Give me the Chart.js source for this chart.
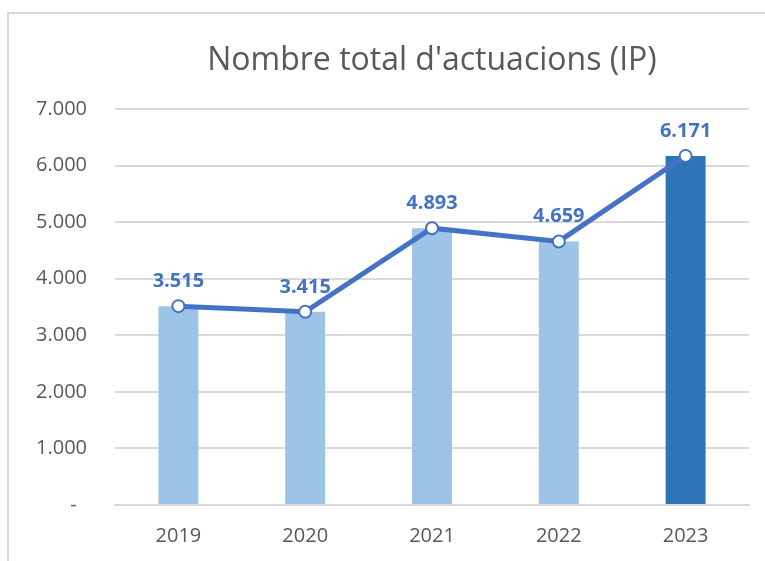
<!DOCTYPE html>
<html>
<head>
<meta charset="utf-8">
<script src="https://cdn.jsdelivr.net/npm/chart.js@4"></script>
<style>
  html, body { margin: 0; padding: 0; background: #fff; }
  #frame { position: absolute; left: 7px; top: 12px; width: 800px; height: 600px; border: 2px solid #d9d9d9; }
  #wrap { position: absolute; left: 0; top: 0; width: 765px; height: 561px; }
</style>
</head>
<body>
<div id="frame"></div>
<div id="wrap"><canvas id="canvas" width="765" height="561"></canvas></div>
<script>
const years = ["2019", "2020", "2021", "2022", "2023"];
const actuacions = [3515, 3415, 4893, 4659, 6171];
const barColors = ["#9dc3e6", "#9dc3e6", "#9dc3e6", "#9dc3e6", "#2e75b6"];
const yTicks = [0, 1000, 2000, 3000, 4000, 5000, 6000, 7000];
const titleText = "Nombre total d'actuacions (IP)";

const FONT = "'Open Sans', 'Noto Sans', sans-serif";

function fmt(v) {
   if (v === 0) return "-  ";
   return String(v).replace(/\B(?=(\d{3})+(?!\d))/g, ".");
}

// title centred over the plot area, plus value labels over the line points
const overlay = {
   id: "overlay",
   afterDatasetsDraw(chart) {
      const ctx = chart.ctx;
      const area = chart.chartArea;
      ctx.save();
      ctx.fillStyle = "#595959";
      ctx.font = "32px " + FONT;
      ctx.textAlign = "center";
      ctx.textBaseline = "alphabetic";
      ctx.fillText(titleText, (area.left + area.right) / 2, 69.5);

      const meta = chart.getDatasetMeta(1);
      ctx.fillStyle = "#4472c4";
      ctx.font = "bold 20px " + FONT;
      meta.data.forEach((pt, i) => {
         ctx.fillText(fmt(actuacions[i]), pt.x, pt.y - 19);
      });
      ctx.restore();
   }
};

const config = {
   type: "bar",
   data: {
      labels: years,
      datasets: [
         {
            type: "bar",
            data: actuacions,
            backgroundColor: barColors,
            barPercentage: 0.315,
            categoryPercentage: 1,
            order: 1
         },
         {
            type: "line",
            data: actuacions,
            borderColor: "#4472c4",
            borderWidth: 5,
            pointRadius: 6,
            pointBorderWidth: 2,
            pointBackgroundColor: "#ffffff",
            pointBorderColor: "#4472c4",
            tension: 0,
            order: 0
         }
      ]
   },
   options: {
      responsive: false,
      animation: false,
      layout: { padding: { top: 109, right: 16, left: 0, bottom: 0 } },
      plugins: {
         legend: { display: false },
         title: { display: false },
         tooltip: { enabled: false }
      },
      scales: {
         x: {
            grid: { display: false, drawTicks: false },
            border: { display: true, color: "#d9d9d9", width: 2 },
            ticks: { color: "#595959", font: { family: FONT, size: 20 }, padding: 19 },
            afterFit(scale) { scale.height = 56; }
         },
         y: {
            min: 0,
            max: 7000,
            afterBuildTicks(scale) { scale.ticks = yTicks.map(v => ({ value: v })); },
            grid: { color: "#d9d9d9", lineWidth: 2, drawTicks: false },
            border: { display: false },
            ticks: {
               color: "#595959",
               font: { family: FONT, size: 20 },
               padding: 28,
               callback: v => fmt(v)
            },
            afterFit(scale) { scale.width = 115; }
         }
      }
   },
   plugins: [overlay]
};

new Chart(document.getElementById("canvas"), config);
</script>
</body>
</html>
